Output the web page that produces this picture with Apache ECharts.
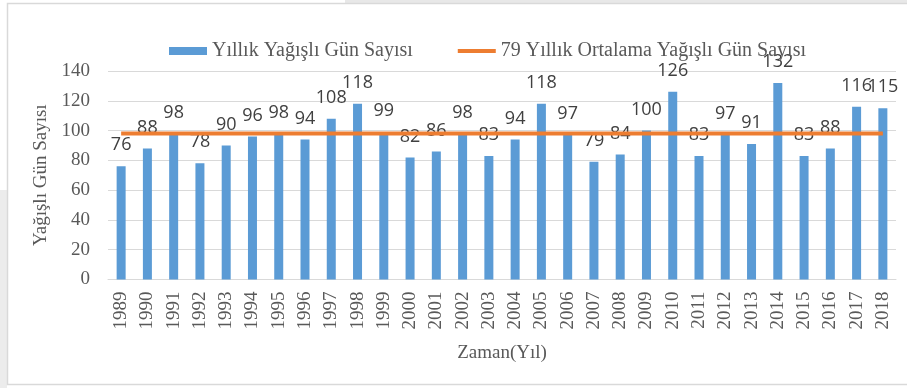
<!DOCTYPE html>
<html>
<head>
<meta charset="utf-8">
<script src="https://cdn.jsdelivr.net/npm/echarts@6/dist/echarts.min.js"></script>
<style>
  html, body { margin: 0; padding: 0; background: #ffffff; }
  #chart { width: 907px; height: 388px; }
</style>
</head>
<body>
<div id="chart"></div>
<script>
// Yıllar (kategori ekseni)
const yillar = ['1989','1990','1991','1992','1993','1994','1995','1996','1997','1998',
  '1999','2000','2001','2002','2003','2004','2005','2006','2007','2008',
  '2009','2010','2011','2012','2013','2014','2015','2016','2017','2018'];

// Yıllık yağışlı gün sayısı
const yagisliGun = [76, 88, 98, 78, 90, 96, 98, 94, 108, 118,
  99, 82, 86, 98, 83, 94, 118, 97, 79, 84,
  100, 126, 83, 97, 91, 132, 83, 88, 116, 115];

// 79 yıllık ortalama yağışlı gün sayısı (sabit çizgi)
const ortalama = [98, 98, 98, 98, 98, 98, 98, 98, 98, 98,
  98, 98, 98, 98, 98, 98, 98, 98, 98, 98,
  98, 98, 98, 98, 98, 98, 98, 98, 98, 98];

// Y ekseni ölçeği
const yMin = 0, yMax = 140, yAralik = 20;

const serif = '"Liberation Serif", "DejaVu Serif", serif';
const gri = '#595959';

const chart = echarts.init(document.getElementById('chart'), null, { renderer: 'canvas' });

chart.setOption({
  animation: false,
  backgroundColor: '#ffffff',
  graphic: [
    { type: 'rect', shape: { x: 0, y: 190, width: 7, height: 198 }, style: { fill: '#ececec' }, silent: true },
    { type: 'rect', shape: { x: 345, y: 0, width: 562, height: 3 }, style: { fill: '#e8e8e8' }, silent: true },
    { type: 'rect', shape: { x: 7.5, y: 3.5, width: 905, height: 381 },
      style: { fill: 'none', stroke: '#d9d9d9', lineWidth: 1.5 }, silent: true }
  ],
  legend: {
    left: 164,
    top: 36,
    itemGap: 45,
    itemWidth: 38,
    itemHeight: 8,
    textStyle: { fontFamily: serif, fontSize: 20, color: gri },
    data: [
      { name: 'Yıllık Yağışlı Gün Sayısı', icon: 'rect' },
      { name: '79 Yıllık Ortalama Yağışlı Gün Sayısı', icon: 'path://M0,3h40v4h-40z' }
    ]
  },
  grid: { left: 108, right: 11, top: 71, bottom: 108.5, containLabel: false },
  xAxis: {
    type: 'category',
    data: yillar,
    name: 'Zaman(Yıl)',
    nameLocation: 'middle',
    nameGap: 64,
    nameTextStyle: { fontFamily: serif, fontSize: 19, color: gri },
    axisLine: { lineStyle: { color: '#d9d9d9', width: 1 } },
    axisTick: { show: false },
    axisLabel: { rotate: 90, fontFamily: serif, fontSize: 19, color: gri, margin: 12, interval: 0 }
  },
  yAxis: {
    type: 'value',
    min: yMin,
    max: yMax,
    interval: yAralik,
    name: 'Yağışlı Gün Sayısı',
    nameLocation: 'middle',
    nameGap: 56,
    nameRotate: 90,
    nameTextStyle: { fontFamily: serif, fontSize: 19, color: gri },
    axisLine: { show: false },
    axisTick: { show: false },
    axisLabel: { fontFamily: serif, fontSize: 19, color: gri, margin: 18 },
    splitLine: { lineStyle: { color: '#d9d9d9', width: 1 } }
  },
  series: [
    {
      name: 'Yıllık Yağışlı Gün Sayısı',
      type: 'bar',
      data: yagisliGun,
      barWidth: 9,
      itemStyle: { color: '#5b9bd5' },
      label: {
        show: true,
        position: 'top',
        distance: 12,
        fontFamily: '"Open Sans", "Liberation Sans", sans-serif',
        fontSize: 18,
        color: '#404040'
      },
      z: 2
    },
    {
      name: '79 Yıllık Ortalama Yağışlı Gün Sayısı',
      type: 'line',
      data: ortalama,
      symbol: 'none',
      lineStyle: { color: '#ed7d31', width: 4 },
      itemStyle: { color: '#ed7d31' },
      z: 3
    }
  ]
});
</script>
</body>
</html>
